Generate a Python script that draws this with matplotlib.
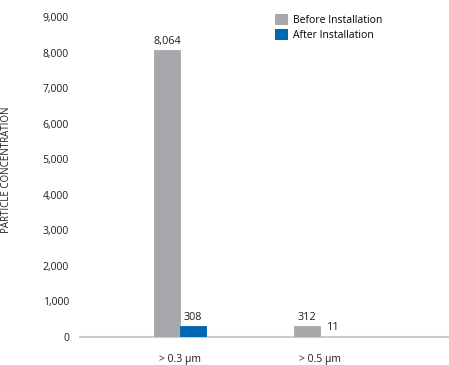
import numpy as np
import matplotlib
matplotlib.use("Agg")
import matplotlib.pyplot as plt
from matplotlib.patches import Patch

matplotlib.rcParams.update({
    "font.family": ["Open Sans", "DejaVu Sans"],
    "font.size": 7.5,
})

# ── Data ─────────────────────────────────────────────────────────────────────
categories = ["> 0.3 µm", "> 0.5 µm"]
before = [8064, 312]
after = [308, 11]
series_names = ["Before Installation", "After Installation"]
yticks = [0, 1000, 2000, 3000, 4000, 5000, 6000, 7000, 8000, 9000]

GRAY = "#a7a8ab"
BLUE = "#0068b3"
TEXT = "#1e1e1e"

fig = plt.figure(figsize=(4.49, 3.65), dpi=100)
ax = fig.add_axes([80 / 449, 28 / 365, 369 / 449, 320 / 365])

x = np.arange(len(categories))
w = 0.186
b1 = ax.bar(x - w / 2, before, w, color=GRAY, edgecolor=GRAY,
            linewidth=0.6, zorder=3)
b2 = ax.bar(x + w / 2, after, w, color=BLUE, edgecolor=BLUE,
            linewidth=0.6, zorder=3)

for bars, vals in ((b1, before), (b2, after)):
    for bar, v in zip(bars, vals):
        ax.text(bar.get_x() + bar.get_width() / 2, v + 90, f"{v:,}",
                ha="center", va="bottom", fontsize=7.8, color=TEXT)

ax.set_xlim(-0.714, 1.92)
ax.set_ylim(0, 9000)
ax.set_yticks(yticks)
ax.set_yticklabels([f"{t:,}" for t in yticks])
ax.set_xticks(x)
ax.set_xticklabels(categories)
ax.tick_params(axis="both", length=0, colors=TEXT, labelsize=7.5)
ax.tick_params(axis="y", pad=8)
ax.tick_params(axis="x", pad=12)

for s in ("top", "right", "left"):
    ax.spines[s].set_visible(False)
ax.spines["bottom"].set_color("#cccccc")
ax.spines["bottom"].set_linewidth(1.5)
ax.spines["bottom"].set_zorder(1)

fig.text(7 / 449, 1 - 170 / 365, "PARTICLE CONCENTRATION", rotation=90,
         ha="center", va="center", fontsize=7, color=TEXT)

handles = [Patch(facecolor=GRAY), Patch(facecolor=BLUE)]
fig.legend(handles, series_names, loc="upper left",
           bbox_to_anchor=(266 / 449, 1 - 5 / 365), frameon=False,
           handlelength=1.2, handleheight=1.2, handletextpad=0.45,
           labelspacing=0.3, fontsize=7.5)

fig.savefig("out.png", dpi=100)
